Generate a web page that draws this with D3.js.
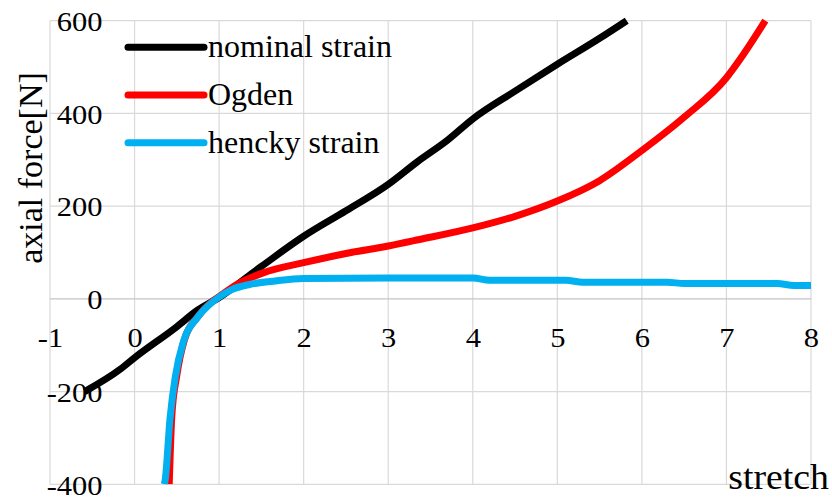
<!DOCTYPE html>
<html>
<head>
<meta charset="utf-8">
<script src="https://cdn.jsdelivr.net/npm/d3@7"></script>
<style>
  html, body { margin: 0; padding: 0; background: #fff; }
  svg { display: block; }
</style>
</head>
<body>
<svg id="chart" width="832" height="499"></svg>
<script>
// data
const xTicks = [-1, 0, 1, 2, 3, 4, 5, 6, 7, 8];
const yTicks = [-400, -200, 0, 200, 400, 600];

const nominalStretch = [-0.59, -0.17, 0, 0.5, 0.74, 1, 1.5, 2, 2.5, 3, 3.34, 3.7, 4, 4.5, 5, 5.5, 5.82];
const nominalForce   = [-200, -152, -127, -60, -25, 3, 70, 135, 190, 247, 295, 342, 388, 448, 506, 562, 600];

const ogdenStretch = [0.41, 0.44, 0.5, 0.59, 0.75, 0.9, 1, 1.2, 1.52, 2, 2.53, 3, 3.37, 4, 4.5, 5, 5.5, 6, 6.5, 7, 7.2, 7.46];
const ogdenForce   = [-400, -255, -165, -88, -38, -8, 5, 30, 56, 78, 99, 114, 128, 153, 178, 211, 255, 320, 392, 477, 527, 600];

const henckyStretch = [0.35, 0.36, 0.42, 0.48, 0.58, 0.74, 0.87, 1, 1.15, 1.36, 1.64, 2, 3, 4, 4.2, 5.1, 5.3, 6.3, 6.5, 7.6, 7.8, 8];
const henckyForce   = [-400, -393, -257, -170, -91, -41, -15, 4, 20, 31, 38, 44, 45, 45, 40, 40, 36, 36, 33, 33, 29, 29];

const seriesNames = ["nominal strain", "Ogden", "hencky strain"];
const seriesColors = ["#000000", "#ff0000", "#00b0f0"];

const series = [
  { name: seriesNames[0], color: seriesColors[0], pts: nominalStretch.map((x, i) => [x, nominalForce[i]]) },
  { name: seriesNames[1], color: seriesColors[1], pts: ogdenStretch.map((x, i) => [x, ogdenForce[i]]) },
  { name: seriesNames[2], color: seriesColors[2], pts: henckyStretch.map((x, i) => [x, henckyForce[i]]) }
];

const FONT = "'Liberation Serif', Tinos, 'Times New Roman', Times, 'Noto Serif', 'DejaVu Serif', serif";
const TICK_SX = 1.13; // tick labels look slightly wide in the source
const svg = d3.select("#chart");

const x = d3.scaleLinear().domain([-1, 8]).range([50, 811]);
const y = d3.scaleLinear().domain([-400, 600]).range([484.3, 20.7]);

// Grid
svg.append("g").selectAll("line").data(xTicks).join("line")
  .attr("x1", d => x(d)).attr("x2", d => x(d))
  .attr("y1", y(600)).attr("y2", y(-400))
  .attr("stroke", "#d9d9d9").attr("stroke-width", 1.2);
svg.append("g").selectAll("line").data(yTicks).join("line")
  .attr("x1", x(-1)).attr("x2", x(8))
  .attr("y1", d => y(d)).attr("y2", d => y(d))
  .attr("stroke", d => d === 0 ? "#c4c4c4" : "#d9d9d9").attr("stroke-width", 1.2);

// X-Axis (crosses at 0)
svg.append("g")
  .attr("transform", `translate(0,${y(0)})`)
  .call(d3.axisBottom(x).tickValues(xTicks).tickFormat(d => String(d)).tickSize(0).tickPadding(29))
  .call(ax => {
    ax.attr("font-family", FONT).attr("font-size", 27);
    ax.select(".domain").remove();
    ax.selectAll(".tick text").attr("fill", "#000").attr("transform", `scale(${TICK_SX},1)`);
  });

// Y-Axis (crosses at 0)
svg.append("g")
  .attr("transform", `translate(${x(0)},0)`)
  .call(d3.axisLeft(y).tickValues(yTicks).tickFormat(d => String(d)).tickSize(0))
  .call(ax => {
    ax.attr("font-family", FONT).attr("font-size", 27);
    ax.select(".domain").remove();
    ax.selectAll(".tick text").attr("fill", "#000").attr("dy", "0.36em")
      .attr("x", -32 / TICK_SX).attr("transform", `scale(${TICK_SX},1)`);
  });

// Axis titles
svg.append("text")
  .attr("transform", "translate(42,168) rotate(-90)")
  .attr("text-anchor", "middle")
  .attr("font-size", 34).attr("font-family", FONT).attr("fill", "#000")
  .text("axial force[N]");
svg.append("text")
  .attr("transform", "translate(829,489) scale(1.08,1)")
  .attr("text-anchor", "end")
  .attr("font-size", 35).attr("font-family", FONT).attr("fill", "#000")
  .text("stretch");

// Lines
svg.append("clipPath").attr("id", "plot-clip").append("rect")
  .attr("x", x(-1)).attr("y", y(600) - 4).attr("width", x(8) - x(-1) + 4).attr("height", y(-400) - y(600) + 4);

const line = d3.line().x(d => x(d[0])).y(d => y(d[1])).curve(d3.curveMonotoneX);
svg.append("g").attr("clip-path", "url(#plot-clip)")
  .selectAll("path").data(series).join("path")
  .attr("d", d => line(d.pts))
  .attr("fill", "none")
  .attr("stroke", d => d.color)
  .attr("stroke-width", 7)
  .attr("stroke-linejoin", "round");

// Legend
const legend = svg.append("g").attr("transform", "translate(128,47.3)");
series.forEach((s, i) => {
  const row = legend.append("g").attr("transform", `translate(0,${i * 47.7})`);
  row.append("line").attr("x1", 0).attr("x2", 76).attr("y1", 0).attr("y2", 0)
    .attr("stroke", s.color).attr("stroke-width", 7).attr("stroke-linecap", "round");
  row.append("text").attr("x", 80).attr("y", 10)
    .attr("font-size", 32).attr("font-family", FONT).attr("fill", "#000")
    .text(s.name);
});
</script>
</body>
</html>
